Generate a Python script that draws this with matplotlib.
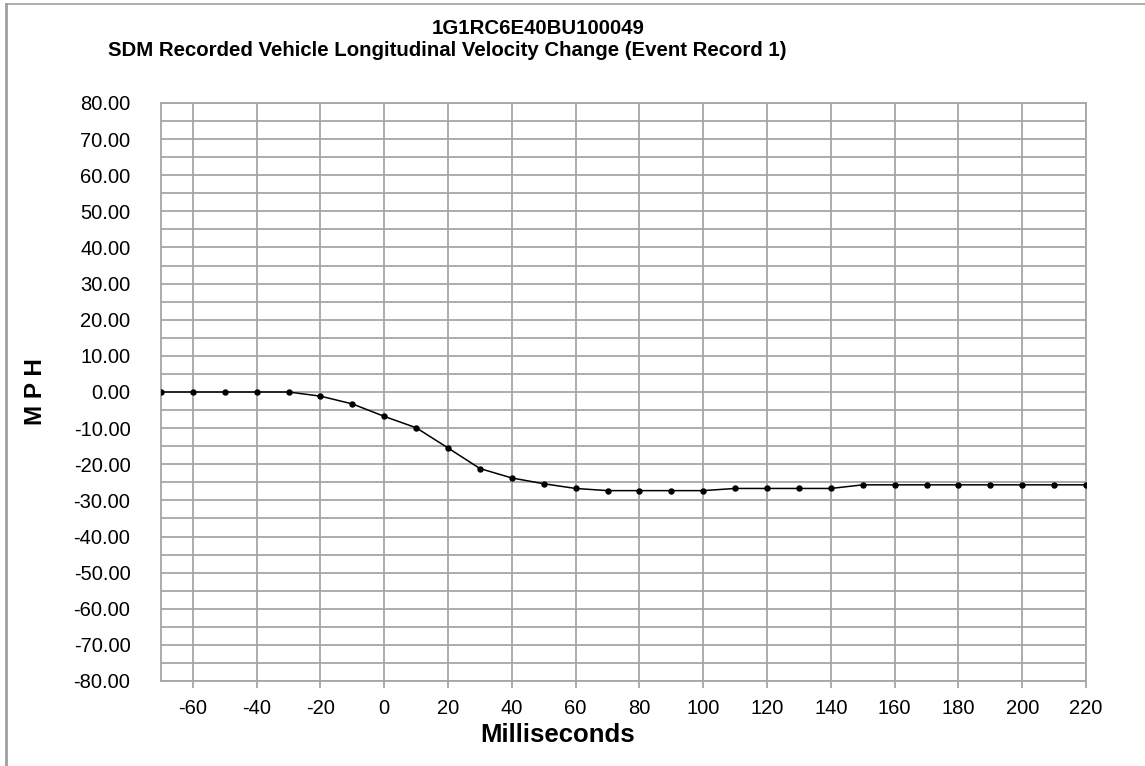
import matplotlib
matplotlib.use("Agg")
import matplotlib.pyplot as plt
from matplotlib.lines import Line2D

plt.rcParams['font.family'] = ['Liberation Sans', 'DejaVu Sans']

# Data
time_ms = [-70, -60, -50, -40, -30, -20, -10, 0, 10, 20, 30, 40, 50, 60, 70,
           80, 90, 100, 110, 120, 130, 140, 150, 160, 170, 180, 190, 200, 210, 220]
velocity_mph = [0.0, 0.0, 0.0, 0.0, 0.0, -1.15, -3.3, -6.75, -9.9, -15.5, -21.2,
                -23.8, -25.4, -26.7, -27.3, -27.3, -27.3, -27.3, -26.7, -26.7,
                -26.7, -26.7, -25.7, -25.7, -25.7, -25.7, -25.7, -25.7, -25.7, -25.7]
x_ticks = list(range(-60, 221, 20))
y_ticks = list(range(-80, 81, 10))
y_minor = list(range(-75, 80, 10))
title1 = "1G1RC6E40BU100049"
title2 = "SDM Recorded Vehicle Longitudinal Velocity Change (Event Record 1)"
xlabel = "Milliseconds"
ylabel = "M P H"

W, H = 1145, 766
fig = plt.figure(figsize=(W / 100, H / 100), dpi=100)
fig.patch.set_facecolor('white')

def fx(px):
    return px / W

def fy(py):
    return 1 - py / H

left, right, top, bottom = 161, 1086, 103, 681
ax = fig.add_axes([fx(left), fy(bottom), fx(right - left), (bottom - top) / H])

grid_c = '#a6a6a6'
ax.plot(time_ms, velocity_mph, color='black', lw=1.1, marker='o', ms=3.6, zorder=3)

ax.set_xlim(-70, 220)
ax.set_ylim(-80, 80)
ax.set_xticks(x_ticks)
ax.set_xticklabels([str(v) for v in x_ticks])
ax.set_yticks(y_ticks)
ax.set_yticklabels([f"{v:.2f}" for v in y_ticks])
ax.set_yticks(y_minor, minor=True)

ax.grid(True, which='major', axis='both', color=grid_c, lw=1.3)
ax.grid(True, which='minor', axis='y', color=grid_c, lw=1.3)
ax.set_axisbelow(True)

for s in ax.spines.values():
    s.set_color(grid_c)
    s.set_linewidth(1.3)

ax.tick_params(axis='x', which='major', length=4.8, width=1.3, color=grid_c,
               pad=8, labelsize=14.5, labelcolor='black')
ax.tick_params(axis='y', which='both', length=0, pad=22, labelsize=14.5,
               labelcolor='black')
ax.tick_params(axis='y', which='minor', length=0)

fig.text(fx(538), fy(28.5), title1, ha='center', va='center',
         fontsize=14.7, fontweight='bold')
fig.text(fx(447), fy(51), title2, ha='center', va='center',
         fontsize=14.7, fontweight='bold')
fig.text(fx(36), fy(392), ylabel, ha='center', va='center', rotation=90,
         fontsize=17.5, fontweight='bold')
fig.text(fx(558), fy(735), xlabel, ha='center', va='center',
         fontsize=18.5, fontweight='bold')

frame_c = '#a0a0a0'
fig.add_artist(Line2D([fx(6), fx(6)], [fy(4), fy(H)], color=frame_c, lw=2.0,
                      transform=fig.transFigure))
fig.add_artist(Line2D([fx(6), fx(W)], [fy(4), fy(4)], color=frame_c, lw=1.2,
                      transform=fig.transFigure))

fig.savefig('out.png', dpi=100, facecolor='white')
